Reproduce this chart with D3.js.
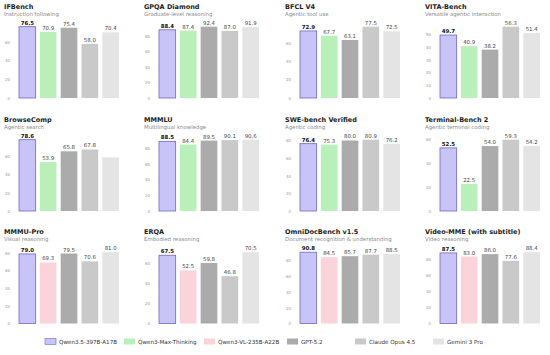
<!DOCTYPE html>
<html><head><meta charset="utf-8">
<script src="https://cdn.jsdelivr.net/npm/d3@7"></script>
<style>body{margin:0;background:#fff}svg{display:block;font-family:"DejaVu Sans",sans-serif}</style>
</head><body><svg id="c" width="550" height="355"></svg>
<script>
const models = ["Qwen3.5-397B-A17B","Qwen3-Max-Thinking","Qwen3-VL-235B-A22B","GPT-5.2","Claude Opus 4.5","Gemini 3 Pro"];
const colors = ["#c8c4f8","#b9f0b9","#fbd3da","#ababab","#c9c9c9","#e4e4e4"];
const titles = ["IFBench","GPQA Diamond","BFCL V4","VITA-Bench","BrowseComp","MMMLU","SWE-bench Verified","Terminal-Bench 2","MMMU-Pro","ERQA","OmniDocBench v1.5","Video-MME (with subtitle)"];
const subtitles = ["Instruction following","Graduate-level reasoning","Agentic tool use","Versatile agentic interaction","Agentic search","Multilingual knowledge","Agentic coding","Agentic terminal coding","Visual reasoning","Embodied reasoning","Document recognition & understanding","Video reasoning"];
// second bar model index per panel (1 = Qwen3-Max-Thinking, 2 = Qwen3-VL)
const secondModel = [1,1,1,1,1,1,1,1,2,2,2,2];
const values = [
  [76.5,70.9,75.4,58.0,70.4],
  [88.4,87.4,92.4,87.0,91.9],
  [72.9,67.7,63.1,77.5,72.5],
  [49.7,40.9,38.2,56.3,51.4],
  [78.6,53.9,65.8,67.8,59.2],
  [88.5,84.4,89.5,90.1,90.6],
  [76.4,75.3,80.0,80.9,76.2],
  [52.5,22.5,54.0,59.3,54.2],
  [79.0,69.3,79.5,70.6,81.0],
  [67.5,52.5,59.8,46.8,70.5],
  [90.8,84.5,85.7,87.7,88.5],
  [87.5,83.0,86.0,77.6,88.4]
];
const showLabel = [[1,1,1,1,1],[1,1,1,1,1],[1,1,1,1,1],[1,1,1,1,1],[1,1,1,1,0],[1,1,1,1,1],[1,1,1,1,1],[1,1,1,1,1],[1,1,1,1,1],[1,1,1,1,1],[1,1,1,1,1],[1,1,1,1,1]];
const ticks = [
  [0,20,40,60],[0,20,40,60,80],[0,20,40,60],[0,10,20,30,40,50],
  [0,20,40,60],[0,20,40,60,80],[0,20,40,60,80],[0,20,40,60],
  [0,20,40,60,80],[0,20,40,60],[0,20,40,60,80],[0,20,40,60,80]
];

const svg = d3.select("#c");
const colX = [19,159,300,440];
const rowBase = [98,211,323.5];
const plotH = 82, plotW = 100;

titles.forEach((t,i)=>{
  const r = Math.floor(i/4), c = i%4;
  const x0 = colX[c], yb = rowBase[r];
  const vals = values[i];
  const mIdx = [0, secondModel[i], 3, 4, 5];
  const x = d3.scaleBand().domain(d3.range(5)).range([x0, x0+plotW]).paddingInner(0.2);
  const y = d3.scaleLinear().domain([0, d3.max(vals)*1.15]).range([yb, yb-plotH]);
  const g = svg.append("g");
  g.append("text").attr("x", x0-15).attr("y", yb-89.5).attr("font-size",6.5).attr("font-weight","bold").attr("fill","#222").text(t);
  g.append("text").attr("x", x0-15).attr("y", yb-82.5).attr("font-size",5.4).attr("fill","#8a8a8a").text(subtitles[i]);
  const ax = d3.axisLeft(y).tickValues(ticks[i]).tickSize(0).tickPadding(0).tickFormat(d3.format("d"));
  const axg = g.append("g").attr("transform",`translate(${x0-9},0)`).call(ax);
  axg.select(".domain").remove();
  axg.selectAll("text").attr("font-size",4).attr("fill","#999").attr("font-family","DejaVu Sans");
  g.selectAll("rect").data(vals).join("rect")
    .attr("x",(d,j)=>x(j)).attr("width",x.bandwidth())
    .attr("y",d=>y(d)).attr("height",d=>yb-y(d))
    .attr("fill",(d,j)=>colors[mIdx[j]])
    .attr("stroke",(d,j)=>j===0?"#6f66c9":"none").attr("stroke-width",0.8);
  g.selectAll("text.v").data(vals).join("text").attr("class","v")
    .filter((d,j)=>showLabel[i][j])
    .attr("x",(d,j)=>x(j)+x.bandwidth()/2).attr("y",d=>y(d)-2)
    .attr("text-anchor","middle").attr("font-size",5.4)
    .attr("font-weight",(d,j)=>j===0?"bold":"normal")
    .attr("fill",(d,j)=>j===0?"#111":"#444")
    .text(d=>d.toFixed(1));
});

// legend
const legX = [45,124,204,287,355,433];
const lg = svg.append("g");
models.forEach((m,i)=>{
  lg.append("rect").attr("x",legX[i]).attr("y",338.5).attr("width",11).attr("height",6)
    .attr("fill",colors[i]).attr("stroke",i===0?"#6f66c9":"none").attr("stroke-width",0.6);
  lg.append("text").attr("x",legX[i]+14).attr("y",343.8).attr("font-size",5.6).attr("fill","#333").text(m);
});
</script></body></html>
